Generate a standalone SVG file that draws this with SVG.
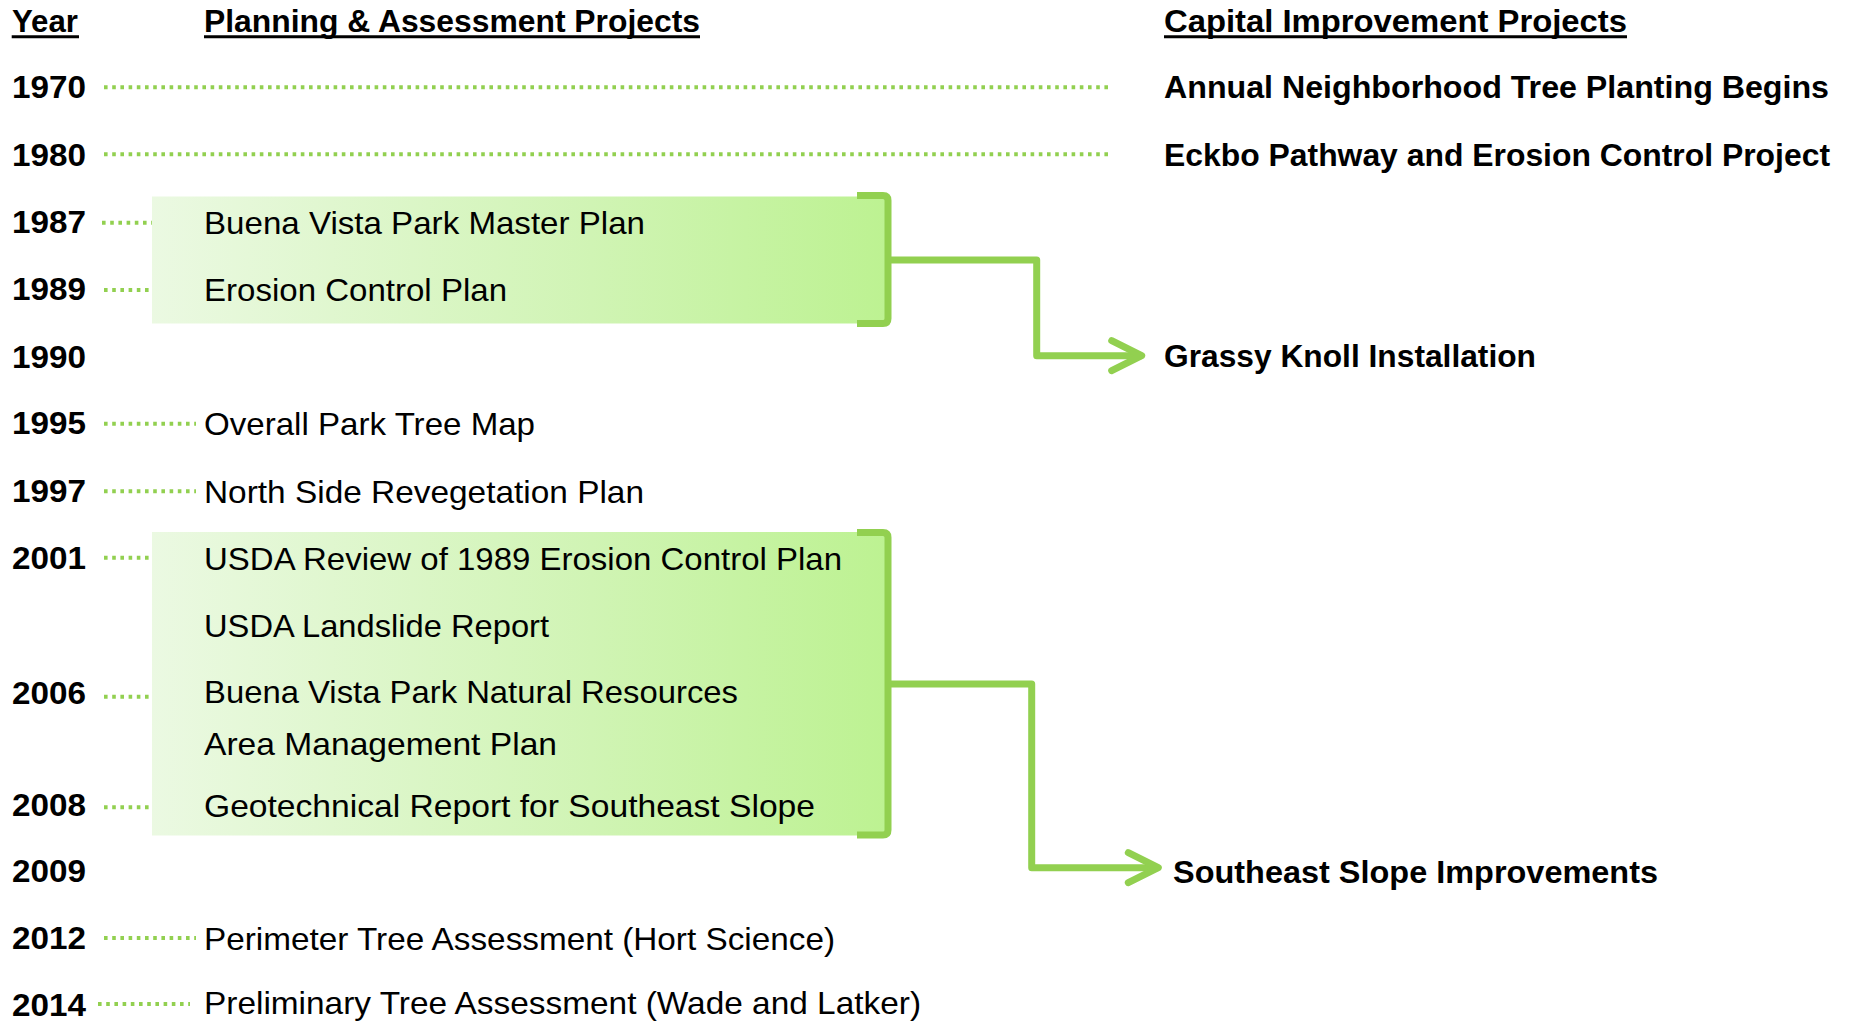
<svg xmlns="http://www.w3.org/2000/svg" width="1851" height="1025" viewBox="0 0 1851 1025">
<style>
text{font-family:"Liberation Sans",Arial,sans-serif;font-size:32px;fill:#000}
.b{font-weight:bold}
.ul{stroke:#000;stroke-width:3}
.dot{stroke:#92D050;stroke-width:4;stroke-dasharray:3.6 4.6;fill:none}
.brk{stroke:#92D050;stroke-width:7;fill:none;stroke-linejoin:round}
.con{stroke:#92D050;stroke-width:7;fill:none;stroke-linejoin:round;stroke-linecap:butt}
</style>
<defs>
<linearGradient id="g" x1="0" y1="0" x2="1" y2="0">
<stop offset="0" stop-color="#EBF9E2"/>
<stop offset="0.6" stop-color="#D0F4B4"/>
<stop offset="1" stop-color="#BDF292"/>
</linearGradient>
<marker id="chev" markerUnits="userSpaceOnUse" viewBox="-36 -20 40 40" markerWidth="40" markerHeight="40" refX="0" refY="0" orient="auto">
<path d="M-30,-15 L0,0 L-30,15" fill="none" stroke="#92D050" stroke-width="7" stroke-linecap="round" stroke-linejoin="round"/>
</marker>
</defs>
<rect width="1851" height="1025" fill="#fff"/>

<g id="headers">
<text class="b" x="12" y="31.7" textLength="66" lengthAdjust="spacingAndGlyphs">Year</text>
<line class="ul" x1="11.7" y1="36.7" x2="79" y2="36.7"/>
<text class="b" x="204" y="31.7" textLength="496" lengthAdjust="spacingAndGlyphs">Planning &amp; Assessment Projects</text>
<line class="ul" x1="204" y1="36.7" x2="700" y2="36.7"/>
<text class="b" x="1164" y="31.7" textLength="463" lengthAdjust="spacingAndGlyphs">Capital Improvement Projects</text>
<line class="ul" x1="1164" y1="36.7" x2="1627" y2="36.7"/>
</g>

<g id="box1">
<rect x="152" y="196.5" width="733" height="127" fill="url(#g)"/>
<path class="brk" d="M857,195.5 H883 Q888,195.5 888,200.5 V318.5 Q888,323.5 883,323.5 H857"/>
</g>
<g id="box2">
<rect x="152" y="532" width="733" height="303.5" fill="url(#g)"/>
<path class="brk" d="M857,532.5 H883 Q888,532.5 888,537.5 V830 Q888,835 883,835 H857"/>
</g>

<g id="connectors">
<line class="dot" x1="104" y1="87.3" x2="1110" y2="87.3"/>
<line class="dot" x1="104" y1="154.3" x2="1110" y2="154.3"/>
<line class="dot" x1="102" y1="222.7" x2="152" y2="222.7"/>
<line class="dot" x1="104" y1="290" x2="150" y2="290"/>
<line class="dot" x1="104" y1="423.7" x2="196" y2="423.7"/>
<line class="dot" x1="104" y1="491.3" x2="196" y2="491.3"/>
<line class="dot" x1="104" y1="557.7" x2="150" y2="557.7"/>
<line class="dot" x1="104" y1="696.7" x2="150" y2="696.7"/>
<line class="dot" x1="104" y1="807.3" x2="150" y2="807.3"/>
<line class="dot" x1="104" y1="938" x2="196" y2="938"/>
<line class="dot" x1="98" y1="1004" x2="190" y2="1004"/>
<path id="arrow1" class="con" d="M888,260 H1036.7 V355.7 H1141.7" marker-end="url(#chev)"/>
<path id="arrow2" class="con" d="M888,684 H1031.7 V867.7 H1158.3" marker-end="url(#chev)"/>
</g>

<g id="years">
<text class="b" x="12" y="98.3" textLength="74" lengthAdjust="spacingAndGlyphs">1970</text>
<text class="b" x="12" y="165.7" textLength="74" lengthAdjust="spacingAndGlyphs">1980</text>
<text class="b" x="12" y="233" textLength="74" lengthAdjust="spacingAndGlyphs">1987</text>
<text class="b" x="12" y="300" textLength="74" lengthAdjust="spacingAndGlyphs">1989</text>
<text class="b" x="12" y="367.7" textLength="74" lengthAdjust="spacingAndGlyphs">1990</text>
<text class="b" x="12" y="434.3" textLength="74" lengthAdjust="spacingAndGlyphs">1995</text>
<text class="b" x="12" y="501.7" textLength="74" lengthAdjust="spacingAndGlyphs">1997</text>
<text class="b" x="12" y="569" textLength="74" lengthAdjust="spacingAndGlyphs">2001</text>
<text class="b" x="12" y="704" textLength="74" lengthAdjust="spacingAndGlyphs">2006</text>
<text class="b" x="12" y="815.7" textLength="74" lengthAdjust="spacingAndGlyphs">2008</text>
<text class="b" x="12" y="882.3" textLength="74" lengthAdjust="spacingAndGlyphs">2009</text>
<text class="b" x="12" y="949.3" textLength="74" lengthAdjust="spacingAndGlyphs">2012</text>
<text class="b" x="12" y="1015.5" textLength="74" lengthAdjust="spacingAndGlyphs">2014</text>
</g>

<g id="planning">
<text x="204" y="234" textLength="441" lengthAdjust="spacingAndGlyphs">Buena Vista Park Master Plan</text>
<text x="204" y="300.7" textLength="303" lengthAdjust="spacingAndGlyphs">Erosion Control Plan</text>
<text x="204" y="435" textLength="331" lengthAdjust="spacingAndGlyphs">Overall Park Tree Map</text>
<text x="204" y="503" textLength="440" lengthAdjust="spacingAndGlyphs">North Side Revegetation Plan</text>
<text x="204" y="570" textLength="638" lengthAdjust="spacingAndGlyphs">USDA Review of 1989 Erosion Control Plan</text>
<text x="204" y="636.7" textLength="345" lengthAdjust="spacingAndGlyphs">USDA Landslide Report</text>
<text x="204" y="703.3" textLength="534" lengthAdjust="spacingAndGlyphs">Buena Vista Park Natural Resources</text>
<text x="204" y="755" textLength="353" lengthAdjust="spacingAndGlyphs">Area Management Plan</text>
<text x="204" y="816.5" textLength="611" lengthAdjust="spacingAndGlyphs">Geotechnical Report for Southeast Slope</text>
<text x="204" y="950" textLength="631" lengthAdjust="spacingAndGlyphs">Perimeter Tree Assessment (Hort Science)</text>
<text x="204" y="1013.5" textLength="717" lengthAdjust="spacingAndGlyphs">Preliminary Tree Assessment (Wade and Latker)</text>
</g>

<g id="capital">
<text class="b" x="1164" y="98.3" textLength="665" lengthAdjust="spacingAndGlyphs">Annual Neighborhood Tree Planting Begins</text>
<text class="b" x="1164" y="165.7" textLength="666" lengthAdjust="spacingAndGlyphs">Eckbo Pathway and Erosion Control Project</text>
<text class="b" x="1164" y="367" textLength="372" lengthAdjust="spacingAndGlyphs">Grassy Knoll Installation</text>
<text class="b" x="1173" y="882.5" textLength="485" lengthAdjust="spacingAndGlyphs">Southeast Slope Improvements</text>
</g>
</svg>
